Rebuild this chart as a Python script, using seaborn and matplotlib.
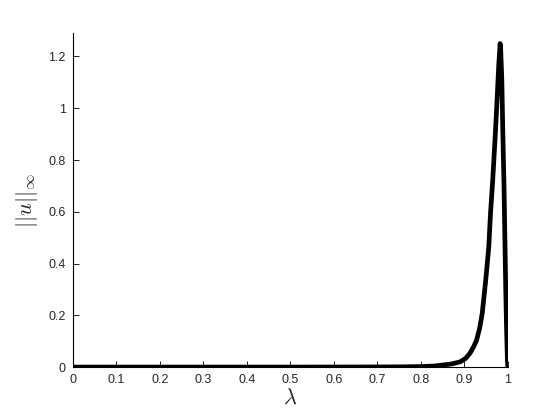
import matplotlib
matplotlib.use('Agg')
import matplotlib.pyplot as plt
import seaborn as sns
import pandas as pd

# solution branch traced from lambda=0 up to the fold and back down to lambda=1
lam = [0.0, 0.3, 0.5, 0.7, 0.76, 0.80, 0.83, 0.851, 0.87, 0.890, 0.903, 0.913, 0.921,
       0.928, 0.935, 0.941, 0.949, 0.956, 0.960, 0.965, 0.969, 0.972, 0.975, 0.977,
       0.979, 0.981, 0.982, 0.983, 0.984, 0.986, 0.988, 0.991, 0.993, 0.995, 0.997,
       0.999, 1.0]
norm = [0.0, 0.0, 0.0, 0.0005, 0.001, 0.002, 0.004, 0.008, 0.012, 0.02, 0.034, 0.054, 0.078,
        0.104, 0.15, 0.208, 0.336, 0.464, 0.594, 0.72, 0.84, 0.93, 1.03, 1.10,
        1.17, 1.22, 1.25, 1.24, 1.20, 1.11, 0.93, 0.70, 0.50, 0.30, 0.14,
        0.02, 0.0]

xticks = [0, 0.1, 0.2, 0.3, 0.4, 0.5, 0.6, 0.7, 0.8, 0.9, 1]
xticklabels = ['0', '0.1', '0.2', '0.3', '0.4', '0.5', '0.6', '0.7', '0.8', '0.9', '1']
yticks = [0, 0.2, 0.4, 0.6, 0.8, 1, 1.2]
yticklabels = ['0', '0.2', '0.4', '0.6', '0.8', '1', '1.2']

sns.set_style('ticks')
plt.rcParams['font.family'] = ['Liberation Sans', 'DejaVu Sans']
plt.rcParams['mathtext.fontset'] = 'cm'

df = pd.DataFrame({'lam': lam, 'norm': norm})

fig = plt.figure(figsize=(5.6, 4.2), dpi=100)
ax = fig.add_axes([0.130, 0.126, 0.777, 0.795])
sns.lineplot(data=df, x='lam', y='norm', sort=False, color='black', linewidth=3.4, ax=ax)
ax.lines[0].set_solid_joinstyle('round')
ax.lines[0].set_solid_capstyle('butt')

ax.set_xlim(0, 1)
ax.set_ylim(0, 1.29)
ax.set_xticks(xticks)
ax.set_xticklabels(xticklabels)
ax.set_yticks(yticks)
ax.set_yticklabels(yticklabels)
ax.tick_params(direction='in', length=4, width=0.6, labelsize=9, colors='black',
               labelcolor='#262626', pad=5)
for s in ['top', 'right']:
    ax.spines[s].set_visible(False)
for s in ['left', 'bottom']:
    ax.spines[s].set_linewidth(0.8)
    ax.spines[s].set_color('black')

ax.set_xlabel(r'$\lambda$', fontsize=16, labelpad=1)
ax.set_ylabel(r'$||u||_\infty$', fontsize=16, labelpad=6)

fig.savefig('out.png', dpi=100)
